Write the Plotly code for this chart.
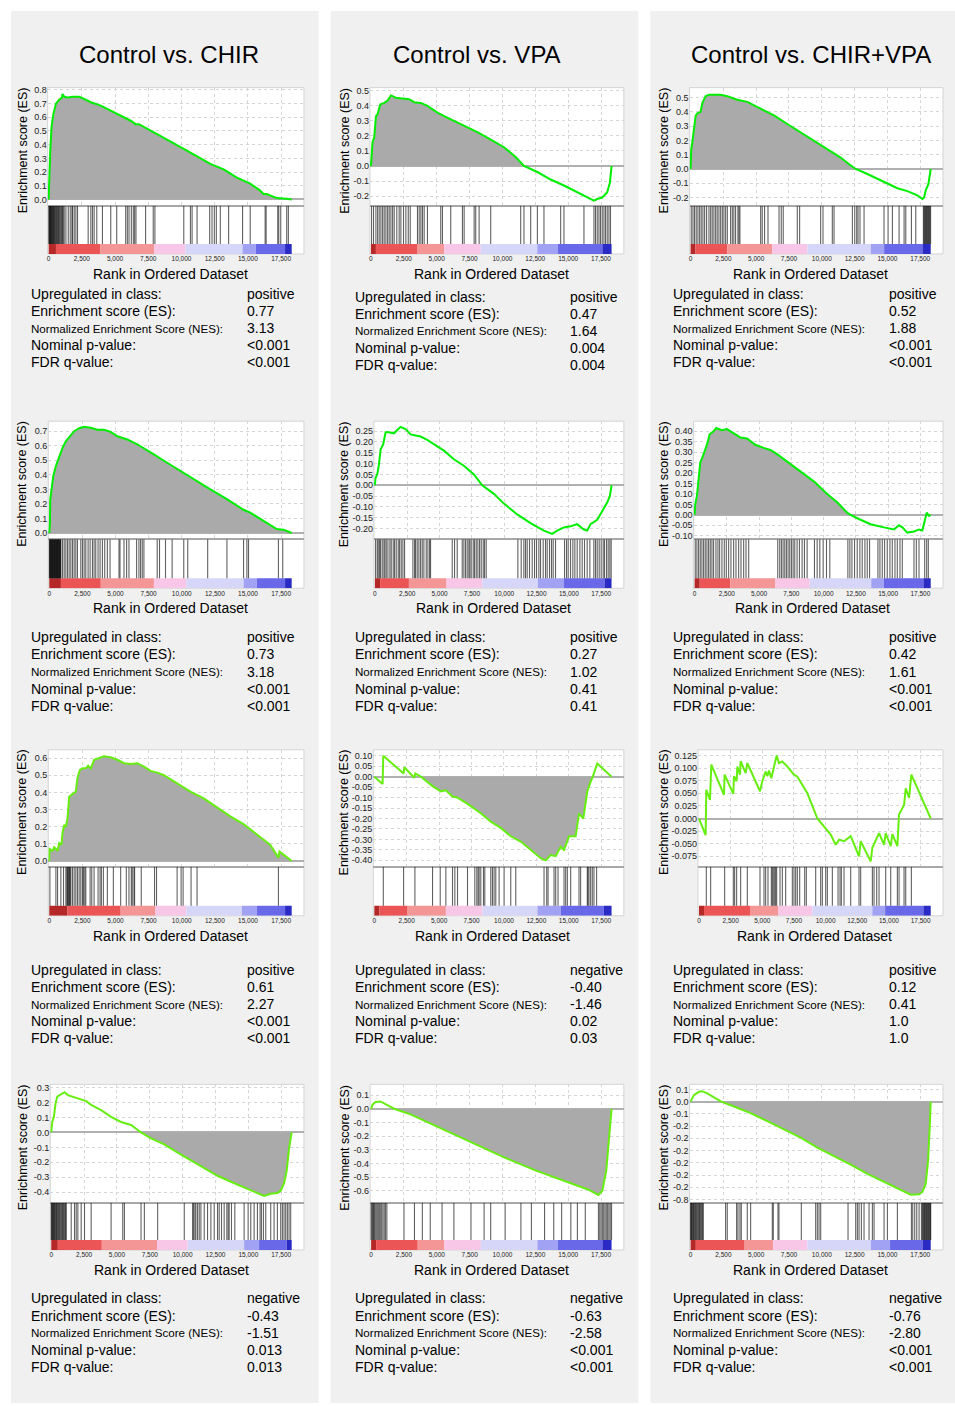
import plotly.graph_objects as go

W, H = 955, 1406
FONT = "Liberation Sans, Arial, sans-serif"

# ---------------- data ----------------
column_titles = ["Control vs. CHIR", "Control vs. VPA", "Control vs. CHIR+VPA"]
N_RANK = 18300
x_tick_vals = [0, 2500, 5000, 7500, 10000, 12500, 15000, 17500]
x_tick_text = ["0", "2,500", "5,000", "7,500", "10,000", "12,500", "15,000", "17,500"]
stat_labels = ["Upregulated in class:", "Enrichment score (ES):",
               "Normalized Enrichment Score (NES):", "Nominal p-value:", "FDR q-value:"]

# panel 1,1  Control vs CHIR
es_x_11 = [0, 50, 125, 225, 350, 550, 800, 975, 1050, 1175, 1425, 1800, 2300, 2550, 3175, 3925, 4675, 5425,
           6175, 6550, 6800, 7925, 9175, 10175, 11175, 12175, 13175, 14175, 15175, 15925, 16175, 16425,
           17175, 17550, 17925, 18300]
es_y_11 = [0, 0.20, 0.37, 0.54, 0.62, 0.70, 0.73, 0.74, 0.77, 0.75, 0.745, 0.75, 0.75, 0.74, 0.71, 0.685, 0.65,
           0.61, 0.575, 0.55, 0.55, 0.49, 0.42, 0.37, 0.315, 0.26, 0.22, 0.16, 0.115, 0.065, 0.04, 0.04, 0.01,
           0.01, 0.005, 0]
hits_11 = [15, 45, 80, 110, 140, 175, 210, 250, 290, 330, 370, 410, 450, 500, 550, 600, 650, 700, 750, 800,
           860, 920, 980, 1040, 1100, 1170, 1300, 1475, 1625, 1750, 1800, 1925, 2050, 2175, 2975, 3175, 3300,
           3425, 3625, 4050, 4675, 5125, 5800, 5925, 6050, 6225, 6375, 6475, 6575, 7300, 7875, 8000, 10175,
           10675, 10800, 11175, 12125, 12300, 12475, 12625, 12925, 13550, 14600, 15175, 16300, 16375, 17250,
           17325, 17475, 17925, 18050]
cb_edges_11 = [0, 550, 3900, 7950, 10300, 14600, 15600, 17800, 18300]
fill_11 = [0, 18300]
yt_11 = [0.0, 0.1, 0.2, 0.3, 0.4, 0.5, 0.6, 0.7, 0.8]
ytt_11 = ["0.0", "0.1", "0.2", "0.3", "0.4", "0.5", "0.6", "0.7", "0.8"]
stats_11 = ["positive", "0.77", "3.13", "&lt;0.001", "&lt;0.001"]

# panel 1,2  Control vs VPA
es_x_12 = [0, 50, 125, 250, 380, 500, 710, 1010, 1265, 1520, 1900, 2405, 2910, 3290, 3800, 4300, 5060, 6075,
           7085, 8100, 9110, 10125, 11010, 11640, 12655, 13670, 14680, 15690, 16450, 16960, 17210, 17590,
           17970, 18175, 18300]
es_y_12 = [0, 0.07, 0.16, 0.19, 0.33, 0.345, 0.41, 0.42, 0.435, 0.47, 0.455, 0.45, 0.445, 0.425, 0.42, 0.40,
           0.355, 0.31, 0.27, 0.225, 0.175, 0.125, 0.06, 0.0, -0.04, -0.09, -0.13, -0.175, -0.21, -0.23, -0.22,
           -0.21, -0.175, -0.11, 0]
hits_12 = [50, 200, 380, 510, 630, 760, 890, 1010, 1140, 1270, 1390, 1520, 1650, 1770, 1970, 2150, 2280, 2480,
           2660, 2840, 2990, 3540, 3670, 3800, 3920, 4050, 4300, 5310, 5440, 6070, 6960, 7090, 7850, 7970,
           8230, 9110, 11390, 11640, 12150, 12660, 13160, 14430, 14680, 16200, 16960, 17080, 17210, 17340,
           17460, 17590, 17720, 17840, 17970, 18100, 18220]
cb_edges_12 = [0, 380, 3550, 5570, 8350, 12650, 14200, 17600, 18300]
fill_12 = [0, 11640]
yt_12 = [-0.2, -0.1, 0.0, 0.1, 0.2, 0.3, 0.4, 0.5]
ytt_12 = ["-0.2", "-0.1", "0.0", "0.1", "0.2", "0.3", "0.4", "0.5"]
stats_12 = ["positive", "0.47", "1.64", "0.004", "0.004"]

# panel 1,3  Control vs CHIR+VPA
es_x_13 = [0, 25, 50, 127, 254, 381, 508, 763, 890, 1144, 1398, 1780, 2288, 2796, 3559, 4322, 5338, 6355, 7372,
           8389, 9406, 10423, 11439, 12202, 12583, 13473, 14744, 15760, 16523, 17286, 17667, 17794, 17921,
           18124, 18300]
es_y_13 = [0, 0.10, 0.14, 0.185, 0.30, 0.37, 0.39, 0.40, 0.46, 0.51, 0.52, 0.52, 0.52, 0.51, 0.485, 0.47, 0.42,
           0.375, 0.315, 0.255, 0.20, 0.14, 0.08, 0.025, 0.0, -0.035, -0.09, -0.135, -0.155, -0.185, -0.21,
           -0.20, -0.15, -0.105, 0]
hits_13 = [50, 180, 300, 430, 560, 690, 810, 940, 1070, 1220, 1400, 1530, 1650, 1780, 1910, 2030, 2160, 2290,
           2420, 2540, 2670, 2800, 3050, 3180, 3300, 3430, 3610, 3690, 3760, 5340, 5460, 5640, 5900, 6740,
           6910, 7060, 8130, 8310, 9910, 10090, 10800, 10930, 12330, 12510, 12660, 12760, 12910, 13220, 14740,
           15050, 15380, 15890, 16270, 16400, 16830, 17160, 17740, 17790, 17840, 17890, 17940, 17990, 18040,
           18090, 18140, 18190, 18240, 18290]
cb_edges_13 = [0, 380, 2800, 6230, 8900, 13730, 14750, 17670, 18300]
fill_13 = [0, 12583]
yt_13 = [-0.2, -0.1, 0.0, 0.1, 0.2, 0.3, 0.4, 0.5]
ytt_13 = ["-0.2", "-0.1", "0.0", "0.1", "0.2", "0.3", "0.4", "0.5"]
stats_13 = ["positive", "0.52", "1.88", "&lt;0.001", "&lt;0.001"]

# panel 2,1
es_x_21 = [0, 50, 75, 175, 300, 500, 750, 1000, 1250, 1580, 1880, 2255, 2630, 3130, 3635, 4135, 4640, 5140,
           5890, 6645, 7145, 7895, 8900, 9900, 10905, 12160, 13410, 14665, 15165, 16170, 17175, 17675, 18300]
es_y_21 = [0, 0.07, 0.23, 0.30, 0.39, 0.46, 0.53, 0.585, 0.63, 0.665, 0.70, 0.72, 0.73, 0.723, 0.71, 0.71,
           0.695, 0.665, 0.643, 0.61, 0.58, 0.54, 0.483, 0.426, 0.37, 0.30, 0.233, 0.16, 0.14, 0.084, 0.027,
           0.023, 0]
hits_21 = [10, 40, 70, 100, 130, 160, 190, 220, 250, 280, 310, 340, 370, 400, 430, 460, 490, 520, 550, 580,
           610, 640, 670, 700, 730, 760, 790, 820, 850, 880, 1003, 1128, 1254, 1379, 1504, 1630, 1755, 1880,
           2006, 2131, 2382, 2507, 2632, 2758, 2933, 3084, 3259, 3384, 3510, 3685, 3836, 4011, 4187, 4387,
           4588, 5265, 5340, 5641, 5841, 6017, 6593, 6769, 6894, 7020, 7145, 8148, 8323, 8775, 9276, 10153,
           10454, 11958, 13412, 14666, 14917, 15042, 17298, 17624]
cb_edges_21 = [0, 880, 3890, 7900, 10350, 14670, 15670, 17800, 18300]
fill_21 = [0, 18300]
yt_21 = [0.0, 0.1, 0.2, 0.3, 0.4, 0.5, 0.6, 0.7]
ytt_21 = ["0.0", "0.1", "0.2", "0.3", "0.4", "0.5", "0.6", "0.7"]
stats_21 = ["positive", "0.73", "3.18", "&lt;0.001", "&lt;0.001"]

# panel 2,2
es_x_22 = [0, 50, 180, 310, 440, 645, 825, 1080, 1470, 1725, 1985, 2370, 2760, 3145, 3530, 4045, 4560, 5335,
           6105, 6880, 7655, 8300, 9200, 9975, 11005, 12035, 13065, 13710, 14095, 14610, 15125, 15640, 16160,
           16415, 16675, 17190, 17575, 17960, 18170, 18300]
es_y_22 = [0, 0.035, 0.05, 0.095, 0.165, 0.19, 0.245, 0.245, 0.24, 0.255, 0.27, 0.26, 0.235, 0.23, 0.225,
           0.21, 0.19, 0.16, 0.12, 0.09, 0.05, 0.0, -0.04, -0.085, -0.135, -0.175, -0.21, -0.225, -0.21, -0.195,
           -0.19, -0.18, -0.205, -0.21, -0.18, -0.16, -0.12, -0.08, -0.05, 0]
hits_22 = [52, 180, 258, 361, 438, 567, 696, 773, 876, 1005, 1160, 1263, 1417, 1520, 1649, 1804, 1907, 2036,
           2165, 2294, 2938, 3067, 3144, 3273, 3402, 3531, 3660, 3788, 3969, 4097, 4226, 4304, 5979, 6159,
           6365, 6752, 6881, 7009, 7138, 7267, 7344, 7447, 7602, 7705, 7834, 7963, 8092, 8221, 8375, 8478,
           8607, 11055, 11313, 11519, 11648, 11777, 11957, 12163, 12344, 12498, 12679, 12808, 13014, 13194,
           13323, 13504, 13658, 13787, 13967, 14663, 14818, 14947, 15127, 15307, 15462, 15642, 15849, 16029,
           16209, 16415, 16621, 16930, 17059, 17188, 17342, 17497, 17652, 17755, 17910, 18039, 18168, 18271]
cb_edges_22 = [0, 400, 2630, 5540, 8300, 12600, 14600, 17750, 18300]
fill_22 = None
yt_22 = [-0.20, -0.15, -0.10, -0.05, 0.0, 0.05, 0.10, 0.15, 0.20, 0.25]
ytt_22 = ["-0.20", "-0.15", "-0.10", "-0.05", "0.00", "0.05", "0.10", "0.15", "0.20", "0.25"]
stats_22 = ["positive", "0.27", "1.02", "0.41", "0.41"]

# panel 2,3
es_x_23 = [0, 50, 180, 310, 440, 645, 830, 1010, 1165, 1475, 1680, 2120, 2510, 3030, 3545, 4065, 4710, 5355,
           5875, 6390, 7170, 8205, 9240, 10275, 11050, 11825, 12085, 12735, 13640, 14675, 15450, 15840, 16100,
           16485, 17005, 17390, 17650, 17830, 17985, 18170, 18300]
es_y_23 = [0, 0.05, 0.09, 0.185, 0.25, 0.28, 0.31, 0.345, 0.385, 0.40, 0.415, 0.405, 0.41, 0.39, 0.37, 0.365,
           0.335, 0.32, 0.31, 0.29, 0.255, 0.21, 0.16, 0.10, 0.06, 0.01, 0.0, -0.02, -0.045, -0.06, -0.07,
           -0.05, -0.06, -0.085, -0.08, -0.07, -0.075, -0.03, 0.01, -0.005, 0]
hits_23 = [52, 181, 311, 440, 569, 699, 828, 958, 1087, 1216, 1346, 1475, 1656, 1812, 1941, 2122, 2303, 2459,
           2640, 2821, 3028, 3209, 3416, 3597, 3804, 3986, 4193, 6444, 6599, 6729, 6858, 6988, 7117, 7246,
           7376, 7505, 7635, 7764, 7945, 8126, 8333, 8515, 8722, 9291, 9498, 9705, 9964, 10223, 10481, 11879,
           12034, 12193, 12397, 12604, 12811, 12992, 13199, 13380, 13561, 14208, 14363, 14544, 14726, 14933,
           15140, 15321, 15528, 15709, 15916, 16097, 17003, 17184, 17391, 17831, 17986, 18115]
cb_edges_23 = [0, 400, 2770, 6260, 8930, 13690, 14670, 17730, 18300]
fill_23 = [0, 12085]
yt_23 = [-0.10, -0.05, 0.0, 0.05, 0.10, 0.15, 0.20, 0.25, 0.30, 0.35, 0.40]
ytt_23 = ["-0.10", "-0.05", "0.00", "0.05", "0.10", "0.15", "0.20", "0.25", "0.30", "0.35", "0.40"]
stats_23 = ["positive", "0.42", "1.61", "&lt;0.001", "&lt;0.001"]

# panel 3,1
es_x_31 = [0, 25, 250, 375, 625, 750, 925, 1000, 1130, 1255, 1380, 1505, 1755, 2005, 2130, 2305, 2505, 2760,
           2935, 3135, 3385, 3760, 4135, 4640, 5140, 5640, 6140, 6645, 7145, 7645, 8150, 8650, 9650, 10655,
           11660, 12660, 13665, 14665, 15670, 16670, 17300, 17375, 17800, 18300]
es_y_31 = [0, 0.07, 0.06, 0.08, 0.06, 0.105, 0.095, 0.165, 0.21, 0.20, 0.25, 0.375, 0.39, 0.405, 0.485, 0.53,
           0.54, 0.54, 0.555, 0.54, 0.59, 0.60, 0.61, 0.605, 0.59, 0.57, 0.565, 0.57, 0.55, 0.525, 0.515, 0.50,
           0.455, 0.405, 0.365, 0.31, 0.26, 0.215, 0.155, 0.095, 0.02, 0.055, 0.03, 0]
hits_31 = [50, 501, 627, 877, 1078, 1254, 1329, 1379, 1429, 1479, 1529, 1579, 1630, 1755, 1880, 2006, 2131,
           2256, 2382, 2507, 2582, 2682, 2758, 3084, 3209, 3384, 3685, 3836, 3936, 4086, 4387, 4839, 5390,
           5816, 6017, 6192, 6268, 6393, 6443, 6944, 7947, 8098, 9652, 9953, 10103, 10705, 11156, 17298]
cb_edges_31 = [0, 1380, 5390, 8020, 10350, 14540, 15670, 17800, 18300]
fill_31 = [0, 18300]
yt_31 = [0.0, 0.1, 0.2, 0.3, 0.4, 0.5, 0.6]
ytt_31 = ["0.0", "0.1", "0.2", "0.3", "0.4", "0.5", "0.6"]
stats_31 = ["positive", "0.61", "2.27", "&lt;0.001", "&lt;0.001"]

# panel 3,2
es_x_32 = [0, 640, 690, 2260, 2310, 3080, 3160, 3590, 4490, 4880, 5135, 5520, 6030, 6420, 7190, 8215, 8985,
           9755, 10525, 11295, 12065, 12835, 13220, 13605, 13990, 14375, 14630, 15020, 15530, 15790, 16120,
           16430, 16685, 16850, 17200, 18300]
es_y_32 = [0, -0.035, 0.10, 0.015, 0.045, -0.005, 0.015, 0.0, -0.045, -0.06, -0.07, -0.065, -0.095, -0.10,
           -0.13, -0.175, -0.215, -0.245, -0.285, -0.31, -0.35, -0.39, -0.40, -0.375, -0.38, -0.335, -0.35,
           -0.285, -0.285, -0.175, -0.20, -0.07, -0.025, 0.0, 0.063, 0]
hits_32 = [693, 2259, 3132, 4492, 5083, 5519, 6032, 6212, 6418, 7188, 7752, 7906, 8009, 8086, 8214, 8420,
           8522, 8985, 9113, 9241, 9370, 9626, 10011, 10525, 10910, 13092, 13298, 13401, 13863, 13991, 14171,
           14633, 14761, 14889, 15146, 15788, 15915, 16429, 16480, 16557, 16685, 16814, 16942, 17147]
cb_edges_32 = [0, 400, 2570, 5520, 8340, 12580, 14370, 17710, 18300]
fill_32 = [3590, 16850]
yt_32 = [-0.40, -0.35, -0.30, -0.25, -0.20, -0.15, -0.10, -0.05, 0.0, 0.05, 0.10]
ytt_32 = ["-0.40", "-0.35", "-0.30", "-0.25", "-0.20", "-0.15", "-0.10", "-0.05", "0.00", "0.05", "0.10"]
stats_32 = ["negative", "-0.40", "-1.46", "0.02", "0.03"]

# panel 3,3
es_x_33 = [0, 525, 580, 870, 975, 1975, 2025, 2710, 2765, 2975, 3030, 3240, 3290, 3685, 3820, 4820, 5000,
           5135, 5265, 5400, 5530, 5715, 5925, 6135, 6320, 6580, 6980, 7505, 7770, 8560, 9350, 10400, 10795,
           11060, 11455, 11980, 12640, 12770, 13560, 13690, 14220, 14615, 14745, 15140, 15270, 15665, 15795,
           16195, 16325, 16590, 16770, 18300]
es_y_33 = [0, -0.033, 0.057, 0.037, 0.107, 0.047, 0.087, 0.049, 0.084, 0.074, 0.103, 0.087, 0.114, 0.09,
           0.110, 0.054, 0.074, 0.084, 0.093, 0.084, 0.095, 0.080, 0.106, 0.125, 0.110, 0.113, 0.103, 0.087,
           0.083, 0.05, 0.0, -0.032, -0.052, -0.042, -0.045, -0.035, -0.075, -0.045, -0.085, -0.058, -0.029,
           -0.052, -0.029, -0.055, -0.031, -0.055, 0.008, 0.027, 0.06, 0.041, 0.087, 0]
hits_33 = [579, 922, 2027, 2712, 2817, 2975, 3291, 3818, 4818, 5134, 5266, 5450, 5714, 5793, 5872, 5977, 6056,
           6135, 6398, 6583, 6846, 7372, 7504, 7636, 7767, 7952, 8347, 8478, 9216, 9610, 9742, 10005, 10137,
           10532, 10980, 11138, 11243, 11454, 11980, 12638, 12770, 13692, 13823, 14034, 14218, 14745, 15140,
           15666, 15798, 16193, 16325, 16772]
cb_edges_33 = [0, 400, 4080, 6270, 8950, 13690, 14700, 17720, 18300]
fill_33 = None
yt_33 = [-0.075, -0.050, -0.025, 0.0, 0.025, 0.050, 0.075, 0.100, 0.125]
ytt_33 = ["-0.075", "-0.050", "-0.025", "0.000", "0.025", "0.050", "0.075", "0.100", "0.125"]
stats_33 = ["positive", "0.12", "0.41", "1.0", "1.0"]

# panel 4,1
es_x_41 = [0, 75, 200, 330, 455, 630, 885, 1010, 1265, 1770, 2280, 2660, 3035, 3795, 4555, 5315, 6075, 6835,
           7590, 8605, 9620, 10630, 11640, 12655, 13670, 14680, 15440, 16200, 16705, 17210, 17465, 17720,
           17920, 18095, 18300]
es_y_41 = [0, 0.07, 0.105, 0.195, 0.24, 0.25, 0.26, 0.27, 0.25, 0.235, 0.22, 0.21, 0.185, 0.15, 0.105, 0.07,
           0.05, 0.0, -0.04, -0.08, -0.135, -0.185, -0.235, -0.29, -0.33, -0.37, -0.40, -0.425, -0.41, -0.405,
           -0.39, -0.34, -0.255, -0.11, 0]
hits_41 = [0, 40, 80, 120, 160, 200, 250, 300, 350, 400, 450, 500, 560, 620, 680, 740, 800, 860, 920, 980,
           1040, 1100, 1139, 1519, 1772, 1898, 2025, 2278, 2531, 3037, 4556, 5442, 5568, 6834, 7087, 8099,
           10124, 10757, 10833, 10934, 11010, 11136, 11263, 11390, 11643, 11896, 12149, 12402, 12655, 12782,
           12959, 13161, 13364, 13465, 13541, 13718, 13971, 14680, 14984, 15186, 15439, 15692, 15894, 15996,
           16148, 16325, 16705, 16958, 17211, 17464, 17590, 17717, 17844, 17970, 18097, 18224]
cb_edges_41 = [0, 500, 3850, 8050, 10380, 14680, 15820, 17920, 18300]
fill_41 = [6835, 18300]
yt_41 = [-0.4, -0.3, -0.2, -0.1, 0.0, 0.1, 0.2, 0.3]
ytt_41 = ["-0.4", "-0.3", "-0.2", "-0.1", "0.0", "0.1", "0.2", "0.3"]
stats_41 = ["negative", "-0.43", "-1.51", "0.013", "0.013"]

# panel 4,2
es_x_42 = [0, 100, 300, 700, 1200, 1800, 3000, 5000, 7500, 10000, 12500, 15000, 16500, 17300, 17600, 17900,
           18100, 18300]
es_y_42 = [0, 0.03, 0.05, 0.055, 0.03, 0.0, -0.04, -0.13, -0.24, -0.35, -0.45, -0.54, -0.59, -0.63, -0.6,
           -0.45, -0.25, 0]
hits_42 = [0, 60, 120, 180, 240, 300, 380, 460, 540, 620, 700, 800, 900, 1000, 1100, 1200, 2500, 3300, 3900,
           4500, 5400, 6300, 7600, 8600, 9100, 10200, 11400, 12200, 13200, 13900, 14500, 15200, 15700, 16300,
           17300, 17400, 17500, 17600, 17700, 17800, 17900, 18000, 18100, 18200, 18300]
cb_edges_42 = [0, 380, 3550, 5570, 8350, 12650, 14200, 17600, 18300]
fill_42 = [1800, 18300]
yt_42 = [-0.6, -0.5, -0.4, -0.3, -0.2, -0.1, 0.0, 0.1]
ytt_42 = ["-0.6", "-0.5", "-0.4", "-0.3", "-0.2", "-0.1", "0.0", "0.1"]
stats_42 = ["negative", "-0.63", "-2.58", "&lt;0.001", "&lt;0.001"]

# panel 4,3
es_x_43 = [0, 254, 635, 890, 1270, 2034, 2339, 3305, 4576, 5847, 7118, 8389, 9660, 10930, 12200, 13475,
           14745, 16015, 16777, 17413, 17667, 17921, 18100, 18225, 18300]
es_y_43 = [0, 0.053, 0.08, 0.085, 0.067, 0.02, 0.0, -0.04, -0.094, -0.16, -0.228, -0.295, -0.375, -0.443,
           -0.515, -0.59, -0.656, -0.725, -0.76, -0.757, -0.738, -0.67, -0.48, -0.21, 0]
hits_43 = [0, 40, 80, 120, 170, 220, 270, 320, 380, 440, 500, 560, 620, 680, 740, 800, 860, 920, 966, 2669,
           2796, 3508, 3610, 3762, 3864, 4321, 4576, 6228, 6304, 6660, 6736, 8439, 9532, 9660, 9787, 9914,
           11998, 12583, 12710, 12837, 13015, 13218, 13600, 13854, 13981, 14744, 14998, 15760, 16828, 16930,
           17082, 17235, 17413, 17591, 17667, 17720, 17770, 17820, 17870, 17920, 17970, 18020, 18070, 18120,
           18170, 18220, 18270, 18300]
cb_edges_43 = [0, 400, 4120, 6300, 8900, 13730, 15200, 17670, 18300]
fill_43 = [2339, 18300]
yt_43 = [-0.8, -0.7, -0.6, -0.5, -0.4, -0.3, -0.2, -0.1, 0.0, 0.1]
ytt_43 = ["-0.8", "-0.2", "-0.2", "-0.2", "-0.2", "-0.2", "-0.2", "-0.1", "0.0", "0.1"]
stats_43 = ["negative", "-0.76", "-2.80", "&lt;0.001", "&lt;0.001"]

cb_colors = ["#b52828", "#ec5555", "#f59696", "#f8c6e6", "#d6d6f8", "#a2a2f4", "#6868e8", "#2a2ac4"]

panels = [
    (es_x_11, es_y_11, hits_11, cb_edges_11, fill_11, yt_11, ytt_11, stats_11),
    (es_x_12, es_y_12, hits_12, cb_edges_12, fill_12, yt_12, ytt_12, stats_12),
    (es_x_13, es_y_13, hits_13, cb_edges_13, fill_13, yt_13, ytt_13, stats_13),
    (es_x_21, es_y_21, hits_21, cb_edges_21, fill_21, yt_21, ytt_21, stats_21),
    (es_x_22, es_y_22, hits_22, cb_edges_22, fill_22, yt_22, ytt_22, stats_22),
    (es_x_23, es_y_23, hits_23, cb_edges_23, fill_23, yt_23, ytt_23, stats_23),
    (es_x_31, es_y_31, hits_31, cb_edges_31, fill_31, yt_31, ytt_31, stats_31),
    (es_x_32, es_y_32, hits_32, cb_edges_32, fill_32, yt_32, ytt_32, stats_32),
    (es_x_33, es_y_33, hits_33, cb_edges_33, fill_33, yt_33, ytt_33, stats_33),
    (es_x_41, es_y_41, hits_41, cb_edges_41, fill_41, yt_41, ytt_41, stats_41),
    (es_x_42, es_y_42, hits_42, cb_edges_42, fill_42, yt_42, ytt_42, stats_42),
    (es_x_43, es_y_43, hits_43, cb_edges_43, fill_43, yt_43, ytt_43, stats_43),
]

# ---------------- geometry (pixels) ----------------
panel_bg_x = [(10, 318), (330, 638), (650, 955)]
panel_bg_y = (8, 1406)
title_x = [168.5, 476, 811]
title_y = 52
box_left = [46.7, 369.3, 689.3, 47.3, 373.3, 693.3, 47.3, 372.7, 697.7, 49.3, 369.5, 689.3]
box_right = [303.3, 623.5, 943.0]
# y reference points: (value_hi, px_hi, value_lo, px_lo)
yref = [(0.8, 87.3, 0.0, 197.3), (0.5, 88.3, 0.0, 163.7), (0.5, 95.0, 0.0, 166.7),
        (0.7, 430.0, 0.0, 532.3), (0.25, 430.0, 0.0, 484.3), (0.40, 430.0, 0.0, 514.0),
        (0.6, 758.3, 0.0, 861.7), (0.10, 756.0, 0.0, 777.0), (0.125, 755.7, 0.0, 819.0),
        (0.3, 1089.3, 0.0, 1134.3), (0.1, 1097.0, 0.0, 1110.7), (0.1, 1091.0, 0.0, 1103.3)]
row_es_top = [85, 420, 750, 1086]
row_es_bot = [202.5, 537.5, 866.5, 1204]
row_cb_bot = [252, 587.7, 916.7, 1252.3]
cb_px = 10
ytitle_x = [21.7, 343.5, 663.5]
xtitle_dy = 20
stat_lx = [28, 352, 671]
stat_vx = [244, 568, 887]
stat_y0 = [[292, 295, 292], [637, 637, 637], [971, 971, 971], [1301, 1301, 1301]]
stat_dy = 17.2
line_colors = ["#00ee00", "#00ee00", "#66ee11", "#66ee11"]

def py(p):
    return 1 - p / H

fig = go.Figure()
shapes = []
annotations = []
layout_axes = {}

for (x0, x1) in panel_bg_x:
    shapes.append(dict(type="rect", xref="paper", yref="paper", x0=x0 / W, x1=x1 / W,
                       y0=py(panel_bg_y[1]), y1=py(panel_bg_y[0]), fillcolor="#f0f0f0",
                       line=dict(width=0), layer="below"))
for c, t in enumerate(column_titles):
    annotations.append(dict(text=t, x=title_x[c] / W, y=py(title_y), xref="paper", yref="paper",
                            showarrow=False, xanchor="center", yanchor="middle",
                            font=dict(family=FONT, size=24, color="#000")))

for k, (ex, ey, hits, cbe, fr, yt, ytt, stats) in enumerate(panels):
    r, c = divmod(k, 3)
    bx0, bx1 = box_left[k], box_right[c]
    top, esb, cbb = row_es_top[r], row_es_bot[r], row_cb_bot[r]
    s = (bx1 - 12.3 - bx0 - 1) / N_RANK
    xr = [-1 / s, N_RANK + 12.3 / s]
    vh, ph, vl, pl = yref[k]
    kk = (vh - vl) / (pl - ph)
    yr = [vl - (esb - pl) * kk, vh + (ph - top) * kk]
    ia, ib = 2 * k + 1, 2 * k + 2
    xa, ya, xb, yb = f"x{ia}", f"y{ia}", f"x{ib}", f"y{ib}"
    xdom = [bx0 / W, bx1 / W]

    shapes.append(dict(type="rect", xref="paper", yref="paper", x0=xdom[0], x1=xdom[1],
                       y0=py(cbb), y1=py(top), fillcolor="white",
                       line=dict(width=1, color="#d4d4d4"), layer="below"))

    layout_axes[f"xaxis{ia}"] = dict(domain=xdom, range=xr, anchor=ya, tickvals=x_tick_vals,
                                     showticklabels=False, showgrid=True, gridcolor="#d6d6d6",
                                     griddash="dot", gridwidth=1, zeroline=False, showline=True,
                                     linecolor="#a8a8a8", linewidth=1.5, ticks="")
    layout_axes[f"yaxis{ia}"] = dict(domain=[py(esb), py(top)], range=yr, anchor=xa, tickvals=yt,
                                     ticktext=ytt, showgrid=True, gridcolor="#d6d6d6", griddash="dot",
                                     gridwidth=1, zeroline=True, zerolinecolor="#b0b0b0",
                                     zerolinewidth=1.5, showline=False, ticks="",
                                     tickfont=dict(family=FONT, size=9, color="#222"))
    layout_axes[f"xaxis{ib}"] = dict(domain=xdom, range=xr, anchor=yb, tickvals=x_tick_vals,
                                     ticktext=x_tick_text, showgrid=False, zeroline=False,
                                     showline=False, ticks="",
                                     tickfont=dict(family=FONT, size=6.5, color="#222"))
    bc_top = esb + 1.0
    layout_axes[f"yaxis{ib}"] = dict(domain=[py(cbb), py(bc_top)], range=[0, 1], anchor=xb,
                                     visible=False)
    cbf = cb_px / (cbb - bc_top)

    # ES fill
    if fr is not None:
        fx = [x for x in ex if fr[0] <= x <= fr[1]]
        fy = [y for x, y in zip(ex, ey) if fr[0] <= x <= fr[1]]
        fig.add_trace(go.Scatter(x=fx, y=fy, fill="tozeroy", fillcolor="#aaaaaa", mode="lines",
                                 line=dict(width=0), xaxis=xa, yaxis=ya, hoverinfo="skip",
                                 showlegend=False))
    fig.add_trace(go.Scatter(x=ex, y=ey, mode="lines", line=dict(color=line_colors[r], width=2),
                             xaxis=xa, yaxis=ya, showlegend=False))
    # barcode
    hx, hy = [], []
    for h in hits:
        hx += [h, h, None]
        hy += [cbf, 1, None]
    fig.add_trace(go.Scatter(x=hx, y=hy, mode="lines", line=dict(color="rgba(0,0,0,0.62)", width=1.1),
                             xaxis=xb, yaxis=yb, hoverinfo="skip", showlegend=False))
    # colour bar of ranked metric
    mids = [(a + b) / 2 for a, b in zip(cbe[:-1], cbe[1:])]
    wids = [b - a for a, b in zip(cbe[:-1], cbe[1:])]
    fig.add_trace(go.Bar(x=mids, y=[cbf] * len(mids), width=wids, base=0,
                         marker=dict(color=cb_colors, line=dict(width=0)),
                         xaxis=xb, yaxis=yb, hoverinfo="skip", showlegend=False))

    # axis titles
    annotations.append(dict(text="Enrichment score (ES)", x=ytitle_x[c] / W, y=py((top + esb) / 2 + 4.5),
                            xref="paper", yref="paper", textangle=-90, showarrow=False,
                            xanchor="center", yanchor="middle",
                            font=dict(family=FONT, size=12.5, color="#000")))
    annotations.append(dict(text="Rank in Ordered Dataset", x=N_RANK / 2, y=py(cbb + xtitle_dy),
                            xref=xb, yref="paper", showarrow=False, xanchor="center",
                            yanchor="middle", font=dict(family=FONT, size=14, color="#000")))
    # statistics
    for i, (lab, val) in enumerate(zip(stat_labels, stats)):
        yy = py(stat_y0[r][c] + i * stat_dy)
        annotations.append(dict(text=lab, x=stat_lx[c] / W, y=yy, xref="paper", yref="paper",
                                showarrow=False, xanchor="left", yanchor="middle",
                                font=dict(family=FONT, size=11.6 if i == 2 else 14, color="#000")))
        annotations.append(dict(text=val, x=stat_vx[c] / W, y=yy, xref="paper", yref="paper",
                                showarrow=False, xanchor="left", yanchor="middle",
                                font=dict(family=FONT, size=14, color="#000")))

fig.update_layout(width=W, height=H, autosize=False, margin=dict(l=0, r=0, t=0, b=0),
                  paper_bgcolor="white", plot_bgcolor="rgba(0,0,0,0)", showlegend=False,
                  shapes=shapes, annotations=annotations, **layout_axes)
fig.write_html("out.html", config={"displayModeBar": False},
               post_script="document.body.style.margin='0';document.body.style.overflow='hidden';")
